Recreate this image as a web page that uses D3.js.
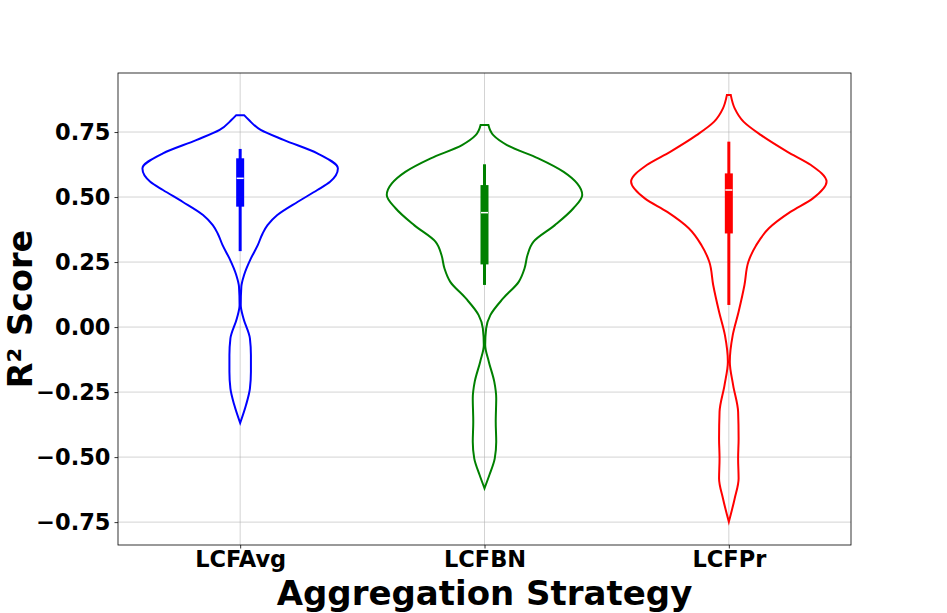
<!DOCTYPE html>
<html><head><meta charset="utf-8">
<script src="https://cdn.jsdelivr.net/npm/d3@7/dist/d3.min.js"></script>
<style>body{margin:0;background:#fff}svg{display:block}text{font-family:"DejaVu Sans",sans-serif;font-weight:bold}</style>
</head><body><svg id="c" width="947" height="613"></svg>
<script>
const categories = ["LCFAvg", "LCFBN", "LCFPr"];
const colors = ["#0000ff", "#008000", "#ff0000"];
const yTicks = [-0.75, -0.5, -0.25, 0, 0.25, 0.5, 0.75];
// violin outlines: [R² value, relative density (1 = widest)]
const profileLCFAvg = [[0.815,0.04],[0.796,0.09],[0.758,0.21],[0.719,0.45],[0.668,0.79],[0.610,1.00],[0.559,0.92],[0.527,0.79],[0.482,0.59],[0.431,0.38],[0.392,0.28],[0.360,0.23],[0.315,0.18],[0.264,0.11],[0.200,0.04],[0.155,0.012],[0.085,0.006],[0.033,0.034],[-0.044,0.10],[-0.108,0.11],[-0.172,0.11],[-0.236,0.10],[-0.300,0.06],[-0.369,0.0]];
const profileLCFBN = [[0.777,0.04],[0.738,0.09],[0.700,0.23],[0.649,0.55],[0.597,0.81],[0.508,1.00],[0.457,0.91],[0.392,0.72],[0.328,0.50],[0.277,0.44],[0.226,0.41],[0.174,0.35],[0.110,0.19],[0.046,0.06],[-0.005,0.017],[-0.069,0.007],[-0.133,0.044],[-0.210,0.10],[-0.274,0.12],[-0.364,0.115],[-0.441,0.12],[-0.505,0.105],[-0.569,0.05],[-0.620,0.0]];
const profileLCFPr = [[0.892,0.02],[0.841,0.06],[0.790,0.15],[0.738,0.33],[0.674,0.60],[0.623,0.84],[0.559,1.00],[0.495,0.86],[0.443,0.63],[0.380,0.41],[0.315,0.28],[0.251,0.20],[0.162,0.16],[0.059,0.10],[-0.031,0.04],[-0.133,0.01],[-0.223,0.044],[-0.326,0.095],[-0.428,0.10],[-0.505,0.095],[-0.582,0.10],[-0.659,0.06],[-0.749,0.0]];
const profiles = [profileLCFAvg, profileLCFBN, profileLCFPr];
// box stats: [whisker low, q1, median, q3, whisker high]
const boxLCFAvg = [0.292, 0.463, 0.572, 0.649, 0.685];
const boxLCFBN = [0.162, 0.241, 0.440, 0.546, 0.626];
const boxLCFPr = [0.085, 0.360, 0.527, 0.591, 0.713];
const boxes = [boxLCFAvg, boxLCFBN, boxLCFPr];

const svg = d3.select("#c");
const L = 118, R = 851, T = 73, B = 545;
const x = d3.scaleLinear().domain([0.5, 3.5]).range([L, R]);
const y = d3.scaleLinear().domain([-0.838, 0.977]).range([B, T]);
const w = d3.scaleLinear().domain([0, 1]).range([0, 0.4]);

// grid
const g = svg.append("g");
g.selectAll(".hg").data(yTicks).join("line")
  .attr("x1", L).attr("x2", R).attr("y1", d => y(d)).attr("y2", d => y(d))
  .attr("stroke", "#b0b0b0").attr("stroke-opacity", 0.7).attr("stroke-width", 0.8);
g.selectAll(".vg").data(categories).join("line")
  .attr("x1", (d, i) => x(i + 1)).attr("x2", (d, i) => x(i + 1)).attr("y1", T).attr("y2", B)
  .attr("stroke", "#b0b0b0").attr("stroke-opacity", 0.7).attr("stroke-width", 0.8);

// violins
profiles.forEach((p, i) => {
  const c = i + 1;
  const area = d3.area()
    .y(d => y(d[0]))
    .x0(d => x(c - w(d[1])))
    .x1(d => x(c + w(d[1])))
    .curve(d3.curveMonotoneY);
  svg.append("path").attr("d", area(p)).attr("fill", "none")
    .attr("stroke", colors[i]).attr("stroke-width", 2);
  const b = boxes[i];
  const cx = x(c);
  svg.append("line").attr("x1", cx).attr("x2", cx).attr("y1", y(b[0])).attr("y2", y(b[4]))
    .attr("stroke", colors[i]).attr("stroke-width", 3);
  svg.append("rect").attr("x", cx - 4).attr("width", 8).attr("y", y(b[3])).attr("height", y(b[1]) - y(b[3]))
    .attr("fill", colors[i]);
  svg.append("line").attr("x1", cx - 3.5).attr("x2", cx + 3.5).attr("y1", y(b[2])).attr("y2", y(b[2]))
    .attr("stroke", "#fff").attr("stroke-width", 1.5);
});

// frame
svg.append("rect").attr("x", L).attr("y", T).attr("width", R - L).attr("height", B - T)
  .attr("fill", "none").attr("stroke", "#000").attr("stroke-width", 0.8);

// y axis
const ya = d3.axisLeft(y).tickValues(yTicks).tickSize(3.5).tickPadding(4)
  .tickFormat(d => d3.format(".2f")(d).replace("-", "\u2212"));
const yg = svg.append("g").attr("transform", `translate(${L},0)`).call(ya);
yg.select(".domain").remove();
yg.selectAll("text").attr("font-size", 22.5).attr("font-family", "DejaVu Sans").attr("font-weight", "bold").attr("fill", "#000");
yg.selectAll("line").attr("stroke", "#000").attr("stroke-width", 0.8);

// x axis
const xa = d3.axisBottom(x).tickValues([1, 2, 3]).tickSize(3.5).tickPadding(3)
  .tickFormat((d, i) => categories[i]);
const xg = svg.append("g").attr("transform", `translate(0,${B})`).call(xa);
xg.select(".domain").remove();
xg.selectAll("text").attr("font-size", 22.5).attr("font-family", "DejaVu Sans").attr("font-weight", "bold").attr("fill", "#000");
xg.selectAll("line").attr("stroke", "#000").attr("stroke-width", 0.8);

svg.append("text").attr("x", (L + R) / 2).attr("y", 605).attr("text-anchor", "middle")
  .attr("font-size", 34).text("Aggregation Strategy");
svg.append("text").attr("transform", `translate(32,${(T + B) / 2}) rotate(-90)`)
  .attr("text-anchor", "middle").attr("font-size", 33.5).text("R² Score");
</script></body></html>
